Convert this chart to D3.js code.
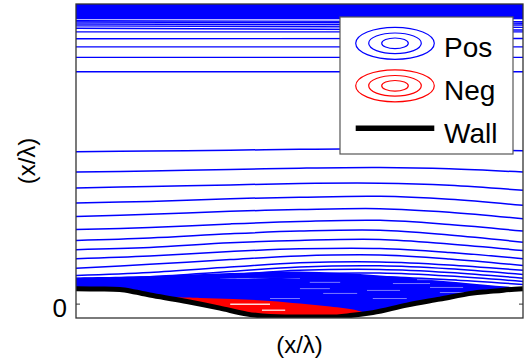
<!DOCTYPE html>
<html><head><meta charset="utf-8">
<script src="https://cdn.jsdelivr.net/npm/d3@7"></script>
<style>body{margin:0;background:#fff}</style>
</head><body>
<svg id="c" width="532" height="360"></svg>
<script>
// ---- data (x in wavelengths, y in wavelengths) ----
const lineX = [0, 0.165, 0.345, 0.5, 0.68, 0.835, 1];
const lowerLines = [
  [0.507,0.509,0.512,0.515,0.517,0.514,0.510],
  [0.439,0.443,0.448,0.452,0.454,0.450,0.439],
  [0.386,0.391,0.396,0.401,0.402,0.395,0.378],
  [0.336,0.341,0.350,0.355,0.358,0.348,0.328],
  [0.291,0.298,0.308,0.314,0.317,0.305,0.283],
  [0.247,0.254,0.266,0.274,0.278,0.264,0.242],
  [0.211,0.219,0.233,0.242,0.245,0.229,0.205],
  [0.180,0.187,0.203,0.211,0.214,0.199,0.177],
  [0.150,0.159,0.174,0.183,0.184,0.171,0.150],
  [0.118,0.131,0.147,0.159,0.162,0.149,0.127],
  [0.094,0.104,0.122,0.136,0.139,0.129,0.111],
  [0.084,0.090,0.107,0.122,0.126,0.116,0.097],
  [0.077,0.082,0.097,0.111,0.114,0.104,0.085],
  [0.070,0.074,0.087,0.099,0.102,0.092,0.074],
  [0.064,0.067,0.077,0.087,0.090,0.080,0.064]
];
const upperX = [0, 1];
const upperLines = [
  [0.944,0.941],[0.940,0.936],[0.933,0.930],[0.927,0.922],[0.919,0.913],
  [0.907,0.907],[0.884,0.885],[0.857,0.857],[0.822,0.822],[0.774,0.774]
];
const topBand = [0.949, 1.0];
const denseTop = [0.087,0.092,0.102,0.107,0.094,0.074,0.052];
const wallX = [0,0.054,0.098,0.132,0.172,0.248,0.322,0.383,0.434,0.501,0.568,0.613,0.664,0.740,0.814,0.888,0.922,0.956,1.0];
const wallY = [0.050,0.049,0.047,0.039,0.027,0.007,-0.015,-0.035,-0.043,-0.045,-0.045,-0.040,-0.030,-0.005,0.015,0.035,0.040,0.045,0.050];
const negX = [0.206,0.277,0.351,0.434,0.501,0.568,0.629,0.649];
const negTop = [0.022,0.019,0.015,0.009,0.000,-0.010,-0.023,-0.033];
const negBottom = [0.020,0.000,-0.020,-0.042,-0.045,-0.045,-0.040,-0.035];
// light streaks inside dense positive region: [x0, x1, y]
const posStreaks = [
  [0.322,0.501,0.084],[0.434,0.501,0.017],[0.523,0.591,0.071],[0.553,0.629,0.034],
  [0.651,0.725,0.044],[0.709,0.792,0.067],[0.763,0.852,0.080],[0.792,0.866,0.054],
  [0.664,0.740,0.017],[0.501,0.568,0.050],[0.814,0.893,0.037]
];
const negStreaks = [[0.345,0.434,-0.002],[0.416,0.468,-0.022]];
const yTicks = [0];
const legendItems = ["Pos","Neg","Wall"];
const xLabel = "(x/\u03bb)", yLabel = "(x/\u03bb)";

// ---- drawing ----
const svg = d3.select("#c");
const L = 76, R = 523, T = 4, B = 318;
const x = d3.scaleLinear().domain([0,1]).range([L,R]);
const y = d3.scaleLinear().domain([-0.048,1.0]).range([B,T]);
const font = "'Liberation Sans', Arial, Helvetica, sans-serif";
const BLUE = "#0000ff", RED = "#ff0000";

svg.append("defs").append("clipPath").attr("id","clip")
  .append("rect").attr("x",L).attr("y",T).attr("width",R-L).attr("height",B-T);
const g = svg.append("g").attr("clip-path","url(#clip)");

const line = d3.line().x(d=>x(d[0])).y(d=>y(d[1])).curve(d3.curveCatmullRom.alpha(0.5));
const wallLine = d3.line().x(d=>x(d[0])).y(d=>y(d[1])).curve(d3.curveMonotoneX);

// top dense band
g.append("rect").attr("x",L).attr("width",R-L)
  .attr("y",y(topBand[1])).attr("height",y(topBand[0])-y(topBand[1])).attr("fill",BLUE);

upperLines.forEach(v=>{
  g.append("path").attr("d",line(upperX.map((xx,i)=>[xx,v[i]])))
    .attr("fill","none").attr("stroke",BLUE).attr("stroke-width",1.4);
});

const wallPts = wallX.map((xx,i)=>[xx,wallY[i]]);

// dense positive region between wall and denseTop
const topPts = lineX.map((xx,i)=>[xx,denseTop[i]]);
g.append("path")
  .attr("d", line(topPts) + "L" + wallLine(wallPts.slice().reverse()).slice(1) + "Z")
  .attr("fill",BLUE);

posStreaks.forEach(s=>{
  g.append("line").attr("x1",x(s[0])).attr("x2",x(s[1])).attr("y1",y(s[2])).attr("y2",y(s[2]))
    .attr("stroke","#7a7aff").attr("stroke-width",1);
});

lowerLines.forEach(v=>{
  g.append("path").attr("d",line(lineX.map((xx,i)=>[xx,v[i]])))
    .attr("fill","none").attr("stroke",BLUE).attr("stroke-width",1.5);
});

// negative region
const nTop = negX.map((xx,i)=>[xx,negTop[i]]);
const nBot = negX.map((xx,i)=>[xx,negBottom[i]]).reverse();
g.append("path").attr("d", line(nTop) + "L" + line(nBot).slice(1) + "Z").attr("fill",RED);
negStreaks.forEach(s=>{
  g.append("line").attr("x1",x(s[0])).attr("x2",x(s[1])).attr("y1",y(s[2])).attr("y2",y(s[2]))
    .attr("stroke","#ffffff").attr("stroke-width",1.4).attr("opacity",0.85);
});

// wall
g.append("path").attr("d",wallLine(wallPts)).attr("fill","none")
  .attr("stroke","#000").attr("stroke-width",5);

// frame
svg.append("rect").attr("x",L).attr("y",T).attr("width",R-L).attr("height",B-T)
  .attr("fill","none").attr("stroke","#333").attr("stroke-width",1.3);

// axes
const ya = svg.append("g").attr("transform",`translate(${L},0)`)
  .call(d3.axisLeft(y).tickValues(yTicks).tickSize(-4).tickPadding(9).tickFormat(d3.format("d")));
ya.select(".domain").remove();
ya.selectAll("line").attr("stroke","#333");
ya.selectAll("text").attr("font-family",font).attr("font-size",26).attr("dy","0.5em").attr("fill","#000");
const yr = svg.append("g").attr("transform",`translate(${R},0)`)
  .call(d3.axisRight(y).tickValues(yTicks).tickSize(-4).tickFormat(""));
yr.select(".domain").remove();
yr.selectAll("line").attr("stroke","#333");

svg.append("text").attr("x",(L+R)/2).attr("y",353).attr("text-anchor","middle")
  .attr("font-family",font).attr("font-size",24).text(xLabel);
svg.append("text").attr("transform",`translate(35,${(T+B)/2}) rotate(-90)`).attr("text-anchor","middle")
  .attr("font-family",font).attr("font-size",24).text(yLabel);

// legend
const lg = svg.append("g");
lg.append("rect").attr("x",340).attr("y",17).attr("width",173).attr("height",137)
  .attr("fill","#fff").attr("stroke","#555").attr("stroke-width",1.2);
const ell = [[39.3,16],[26.3,10.3],[13.3,5.3]];
[[BLUE,43.3],[RED,85.8]].forEach(([c,cy])=>{
  ell.forEach(([rx,ry])=>{
    lg.append("ellipse").attr("cx",395).attr("cy",cy).attr("rx",rx).attr("ry",ry)
      .attr("fill","none").attr("stroke",c).attr("stroke-width",1.2);
  });
});
lg.append("line").attr("x1",355.7).attr("x2",434.3).attr("y1",128.3).attr("y2",128.3)
  .attr("stroke","#000").attr("stroke-width",5.5);
[57.3,100,142.7].forEach((by,i)=>{
  lg.append("text").attr("x",444).attr("y",by).attr("font-family",font).attr("font-size",28)
    .attr("fill","#000").text(legendItems[i]);
});
</script>
</body></html>
